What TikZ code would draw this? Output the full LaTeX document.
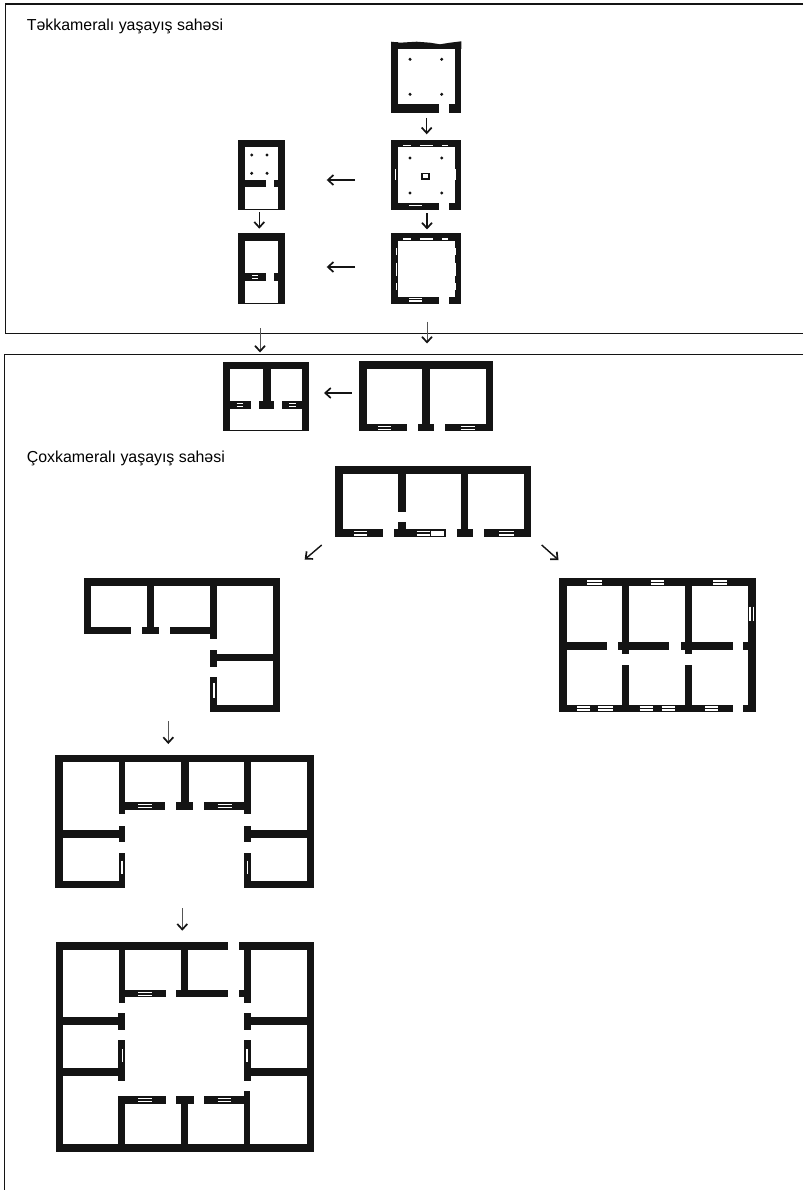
\documentclass[tikz,border=0pt]{standalone}
\usepackage{fontspec}
\setmainfont{Liberation Sans}
\usepackage{xcolor}
\usetikzlibrary{arrows.meta}
\definecolor{wallBlack}{HTML}{141414}
\definecolor{arrowGray}{HTML}{555555}
\tikzset{
  wall/.style={fill=wallBlack},
  winline/.style={draw=white, line width=1.1pt},
  frameline/.style={draw=wallBlack, line width=1.1pt},
  flow/.style={draw=wallBlack, line width=1.4pt, -{Straight Barb[length=5.5pt,width=10pt,line width=1.7pt]}},
  flowthin/.style={draw=arrowGray, line width=0.9pt, -{Straight Barb[length=5.5pt,width=10pt,line width=1.7pt,wallBlack]}},
  pillar/.style={fill=wallBlack},
  areatitle/.style={anchor=base west, inner sep=0pt, font=\fontsize{15.9pt}{18pt}\selectfont}
}

\begin{document}
\begin{tikzpicture}[x=1pt, y=-1pt]
    \useasboundingbox (0,0) rectangle (803,1190);

    \draw[frameline] (803,4) -- (5.3,4) -- (5.3,333.3) -- (803,333.3);
    \draw[frameline] (803,354.5) -- (4.7,354.5) -- (4.7,1190);

    \node[areatitle] (titleone) at (26.7,31) {Təkkameralı yaşayış sahəsi};
    \node[areatitle] (titlemany) at (26.7,462.7) {Çoxkameralı yaşayış sahəsi};

    \fill[wall] (391.3,41.7) -- (400,42.7) -- (416.7,41.7) -- (430,42.7) -- (440,44.3)
        -- (450,42.7) -- (461.3,41.3) -- (461.3,49) -- (391.3,49) -- cycle;
    \foreach \xa/\ya/\xb/\yb in {
        391.3/42/398.3/112.7, 454.7/42/461.3/112.7, 391.3/104.3/438.7/112.7, 448.7/104.3/461.3/112.7,
        391.3/140/461.3/147.3, 391.3/140/398.3/210.3, 454.7/140/461.3/210.3,
        391.3/202.7/438.7/210.3, 448.7/202.7/461.3/210.3,
        391.3/233.3/461.3/240.7, 391.3/233.3/398.3/304, 454.7/233.3/461.3/304,
        391.3/296.7/438.7/304, 448.7/296.7/461.3/304,
        237.7/140/285.3/147.3, 237.7/140/245/210.3, 277.7/140/285.3/210.3,
        245/180/266/187.3, 274/180/277.7/187.3, 245/209.3/277.7/210.3,
        237.7/233.3/285.3/240.7, 237.7/233.3/245/304, 277.7/233.3/285.3/304,
        245/273.3/266/281, 274/273.3/277.7/281, 245/303/277.7/304,
        222.7/361.7/309.3/369.3, 222.7/361.7/230/431.3, 302.3/361.7/309.3/431.3,
        262.7/361.7/270.7/409.3, 230/401/250.7/409.3, 258.7/401/274/409.3,
        281.7/401/302.3/409.3, 230/430.2/302.3/431.3,
        359.3/361/493.3/368.7, 359.3/361/367.3/431, 485.7/361/493.3/431,
        422/361/430/431, 359.3/424/407/431, 418/424/434.3/431, 445/424/493.3/431,
        335/466.3/531.3/474, 335/466.3/342.7/536.7, 524/466.3/531.3/536.7,
        398.3/466.3/406/511.7, 398.3/521.7/406/536.7, 460.7/466.3/468.3/536.7,
        335/529.3/383/536.7, 393.7/529.3/445.7/536.7, 457/529.3/473.3/536.7, 484.3/529.3/531.3/536.7,
        84/578.3/280/586, 84/578.3/91.3/634, 272.7/578.3/280/711.7,
        84/626.7/131.3/634, 142/626.7/159.3/634, 170/626.7/217/634,
        147/578.3/154.3/634, 210/578.3/217/638.7,
        210/650/217/666.7, 217/654/272.7/661.3, 210/677.3/217/711.7, 210/704.7/280/711.7,
        559/578.3/755.7/586, 559/578.3/566.7/711.7, 747.7/578.3/755.7/711.7,
        622/578.3/629.3/654.3, 684.7/578.3/692.3/654.3, 622/664.7/629.3/711.7, 684.7/664.7/692.3/711.7,
        566.7/641.7/606.7/650, 617.7/641.7/669.3/650, 680.7/641.7/732.7/650, 743.3/641.7/747.7/650,
        559/704.7/732.7/711.7, 743.3/704.7/755.7/711.7,
        55/754.7/314.3/762.3, 55/754.7/62.7/888.3, 306.7/754.7/314.3/888.3,
        118.7/754.7/125.3/813.7, 180.7/754.7/189/810, 244/754.7/250.7/813.7,
        125.3/802.3/165.3/810, 176.3/802.3/193.3/810, 203.7/802.3/244/810,
        118.7/825.5/125.3/842, 62.7/830.3/118.7/837.7, 118.7/853.2/125.3/888.3,
        244/825.5/250.7/842, 250.7/830.3/306.7/837.7, 244/853.2/250.7/888.3,
        55/881/125.3/888.3, 244/881/314.3/888.3,
        56/942.3/228/950.3, 239.3/942.3/314.3/950.3, 56/942.3/62.7/1151.7, 306.7/942.3/314.3/1151.7,
        56/1144/314.3/1151.7,
        119/942.3/125.3/1002.7, 181/942.3/188.3/997.3, 244/942.3/250.7/1002.7,
        125.3/990/165.7/997.3, 176.3/990/228/997.3, 239.3/990/244/997.3,
        118.3/1012.7/125.3/1030.3, 62.7/1017.3/118.3/1025, 118.3/1040.3/125.3/1080.7, 62.7/1068.3/118.3/1076,
        244/1012.7/250.7/1030.3, 250.7/1017.3/306.7/1025, 244/1040.3/250.7/1080.7, 250.7/1068.3/306.7/1076,
        118.3/1096/165.7/1103.7, 176.3/1096/193.7/1103.7, 203.7/1096/244/1103.7,
        118.3/1096/125.3/1144, 181/1096/188.3/1144, 244/1090.7/250/1144}
        \fill[wall] (\xa,\ya) rectangle (\xb,\yb);

    \foreach \xa/\xb/\ya in {
        403.3/410.7/145.7, 420/432.7/145.7, 442/448.3/145.7, 409.3/422.3/205.7,
        403.3/410.7/239, 420/432.7/239, 442/448.3/239, 409.3/422.3/298.3, 409.3/422.3/301,
        252.3/258.3/275.3, 252.3/258.3/278.3,
        236.7/243.3/403.3, 236.7/243.3/406.7, 289.3/296/403.3, 289.3/296/406.7,
        378/391.3/426.7, 378/391.3/429.3, 460.7/474.7/426.7, 460.7/474.7/429.3,
        354/367.3/531.7, 354/367.3/535, 416.7/430/531.7, 416.7/430/535, 499.3/514/531.7, 499.3/514/535,
        138.3/151.7/804.3, 138.3/151.7/807.7, 217.7/231.7/804.3, 217.7/231.7/807.7,
        587.3/601.7/581, 587.3/601.7/584, 650.7/664/581, 650.7/664/584, 713.3/727.3/581, 713.3/727.3/584,
        577/590/707, 577/590/710, 598.3/612.7/707, 598.3/612.7/710, 639.7/653.3/707, 639.7/653.3/710,
        661.7/675/707, 661.7/675/710, 705/718.3/707, 705/718.3/710,
        138/151.7/992.3, 138/151.7/995.7, 138/151.7/1098.3, 138/151.7/1101.7, 217.7/231.3/1098.3, 217.7/231.3/1101.7}
        \draw[winline] (\xa,\ya) -- (\xb,\ya);
    \fill[white] (431,531) rectangle (444.3,536);

    \foreach \xa/\ya/\yb in {
        395.7/169/180, 455.7/169/180,
        396.3/248.3/255, 396.3/262.7/276, 396.3/283.3/290, 455.7/248.3/255, 455.7/262.7/276, 455.7/283.3/290,
        214/683.3/698, 750/606.7/621.3, 753.3/606.7/621.3,
        122/860.7/874, 247.7/860.7/874, 122.3/1049/1061.7, 247/1049/1061.7}
        \draw[winline] (\xa,\ya) -- (\xa,\yb);

    \foreach \cx/\cy in {410/59.3, 441.7/59.3, 410/94.3, 441.7/94.3,
        410/158, 441.7/158, 410/193, 441.7/193,
        251.7/155, 267/155, 251.7/173.3, 267/173.3}
        \fill[pillar] (\cx,\cy) circle (1.7);
    \draw[wallBlack, line width=1.8pt] (422,173.5) rectangle (429.3,179.3);

    \coordinate (planAout) at (426.7,118);
    \coordinate (planBin) at (426.7,134.3);
    \coordinate (planBout) at (427,213.5);
    \coordinate (planCin) at (427,229.5);
    \coordinate (planBleft) at (355,180);
    \coordinate (planDright) at (326.7,180);
    \coordinate (planCleft) at (355,267);
    \coordinate (planEright) at (326.7,267);
    \coordinate (planDout) at (259.3,212.5);
    \coordinate (planEin) at (259.3,228.7);
    \coordinate (planEout) at (260,328.3);
    \coordinate (planFin) at (260,352.5);
    \coordinate (planCout) at (427,321.5);
    \coordinate (planGin) at (427,343.5);
    \coordinate (planGleft) at (351.7,393);
    \coordinate (planFright) at (324,393);
    \coordinate (planHleft) at (321.7,545);
    \coordinate (planIin) at (304.7,559.5);
    \coordinate (planHright) at (541.7,545);
    \coordinate (planLin) at (558.5,560);
    \coordinate (planIout) at (168.3,721);
    \coordinate (planJin) at (168.3,744);
    \coordinate (planJout) at (182.3,908);
    \coordinate (planKin) at (182.3,930.7);

    \draw[flow] (planAout) -- (planBin);
    \draw[flow] (planBout) -- (planCin);
    \draw[flow] (planBleft) -- (planDright);
    \draw[flow] (planCleft) -- (planEright);
    \draw[flow] (planDout) -- (planEin);
    \draw[flowthin] (planEout) -- (planFin);
    \draw[flowthin] (planCout) -- (planGin);
    \draw[flow] (planGleft) -- (planFright);
    \draw[flow] (planHleft) -- (planIin);
    \draw[flow] (planHright) -- (planLin);
    \draw[flowthin] (planIout) -- (planJin);
    \draw[flowthin] (planJout) -- (planKin);
\end{tikzpicture}
\end{document}
